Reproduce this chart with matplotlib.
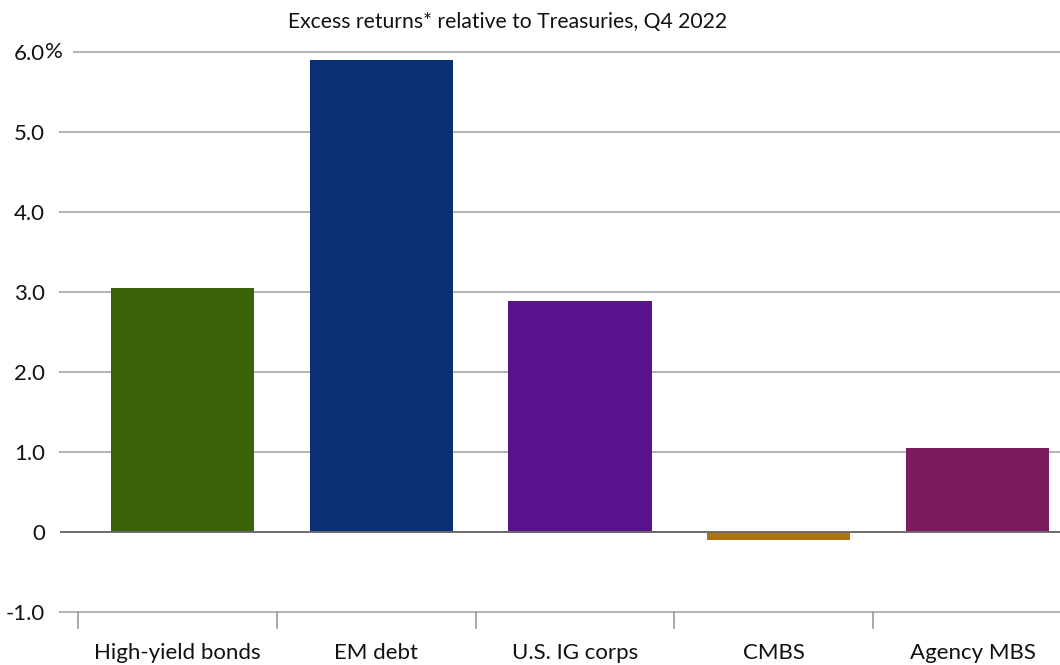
import matplotlib
matplotlib.use("Agg")
import matplotlib.pyplot as plt

plt.rcParams['font.family'] = ['Lato', 'DejaVu Sans']

categories = ["High-yield bonds", "EM debt", "U.S. IG corps", "CMBS", "Agency MBS"]
values = [3.05, 5.90, 2.88, -0.11, 1.05]
colors = ["#3a6307", "#0a3073", "#5a128c", "#ab7411", "#7a1c5e"]
yticks = [-1, 0, 1, 2, 3, 4, 5, 6]
ytick_labels = ["-1.0", "0", "1.0", "2.0", "3.0", "4.0", "5.0", "6.0"]
title = "Excess returns* relative to Treasuries, Q4 2022"

W, H = 1060, 665
fig = plt.figure(figsize=(W / 100, H / 100), dpi=100)
ax_left, ax_right = 60, 1060
ax_top, ax_bot = 51.5, 611.5
ax = fig.add_axes([ax_left / W, (H - ax_bot) / H, (ax_right - ax_left) / W, (ax_bot - ax_top) / H])

unit = 198.8
x0 = -0.5 - (78 - ax_left) / unit
x1 = x0 + (ax_right - ax_left) / unit
ax.set_xlim(x0, x1)
ax.set_ylim(-1, 6)

# gridlines
for y in yticks:
    if y == 0:
        continue
    start = x0 + 14 / unit if y == 6 else x0
    ax.plot([start, x1], [y, y], color="#b3b3b3", lw=1.4, zorder=1, clip_on=False)

pos = list(range(len(categories)))
ax.bar([p + 0.025 for p in pos], values, width=0.72, color=colors, zorder=2)
ax.axhline(0, color="#6b6b6b", lw=1.4, zorder=3)

for s in ax.spines.values():
    s.set_visible(False)

ax.set_yticks(yticks)
ax.set_yticklabels(ytick_labels)
ax.tick_params(axis='y', length=0, pad=10.8, labelsize=16, labelcolor="#111111")
# "%" suffix on top label
ax.text(x0 - 15 / unit, 6, "%", ha="left", va="center", fontsize=16, color="#111111", zorder=4)

ax.set_xticks(pos)
ax.set_xticklabels(categories)
ax.tick_params(axis='x', length=0, pad=23, labelsize=16, labelcolor="#111111")
# category separators below axis
for b in [p - 0.5 for p in pos]:
    ax.plot([b, b], [-1, -1.21], color="#999999", lw=1.2, clip_on=False, zorder=1)

fig.text(507.5 / W, 1 - 22 / H, title, ha="center", va="center", fontsize=15.2, color="#111111")

fig.savefig("out.png", dpi=100)
